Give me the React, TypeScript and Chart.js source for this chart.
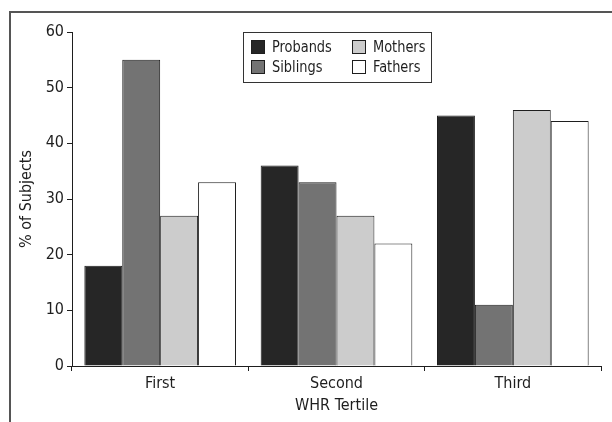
import React, { useEffect, useRef } from "react";
import { Chart, registerables } from "chart.js";

Chart.register(...registerables);

const categories = ["First", "Second", "Third"];
const seriesNames = ["Probands", "Siblings", "Mothers", "Fathers"];
const probands = [18, 36, 45];
const siblings = [55, 33, 11];
const mothers = [27, 27, 46];
const fathers = [33, 22, 44];
const seriesColors = ["#262626", "#737373", "#cccccc", "#ffffff"];
const yTicks = [0, 10, 20, 30, 40, 50, 60];

const FONT = "'Liberation Sans Narrow', 'DejaVu Sans Condensed', 'Arial Narrow', sans-serif";
const INK = "#1e1e1e";

const framePlugin = {
  id: "frame",
  beforeDraw(chart: any) {
    const ctx = chart.ctx;
    ctx.save();
    ctx.strokeStyle = "#555";
    ctx.lineWidth = 2;
    ctx.beginPath();
    ctx.moveTo(10, chart.height);
    ctx.lineTo(10, 12);
    ctx.lineTo(chart.width, 12);
    ctx.stroke();
    ctx.restore();
  },
};

const legendPlugin = {
  id: "boxLegend",
  afterDraw(chart: any) {
    const ctx = chart.ctx;
    ctx.save();
    ctx.strokeStyle = "#333";
    ctx.lineWidth = 1;
    ctx.strokeRect(243.5, 32.5, 188, 50);
    const cols = [251, 352];
    const rows = [40, 60];
    chart.data.datasets.forEach((ds: any, i: number) => {
      const c = Math.floor(i / 2);
      const r = i % 2;
      const x = cols[c];
      const y = rows[r];
      ctx.fillStyle = ds.backgroundColor;
      ctx.fillRect(x, y, 14, 14);
      ctx.strokeStyle = INK;
      ctx.strokeRect(x + 0.5, y + 0.5, 13, 13);
      ctx.save();
      ctx.fillStyle = INK;
      ctx.font = `16px ${FONT}`;
      ctx.textBaseline = "middle";
      ctx.textAlign = "left";
      ctx.translate(x + 21, y + 7.5);
      ctx.scale(0.9, 1);
      ctx.fillText(ds.label, 0, 0);
      ctx.restore();
    });
    ctx.restore();
  },
};

export default function App() {
  const ref = useRef<HTMLCanvasElement>(null);
  useEffect(() => {
    document.body.style.margin = "0";
    const values = [probands, siblings, mothers, fathers];
    const chart = new Chart(ref.current!, {
      type: "bar",
      data: {
        labels: categories,
        datasets: seriesNames.map((name, i) => ({
          label: name,
          data: values[i],
          backgroundColor: seriesColors[i],
          borderColor: INK,
          borderWidth: 1,
          categoryPercentage: 0.86,
          barPercentage: 1,
        })),
      },
      options: {
        animation: false,
        responsive: false,
        layout: { padding: { top: 32, left: 0, right: 11, bottom: 0 } },
        plugins: { legend: { display: false }, tooltip: { enabled: false } },
        scales: {
          x: {
            afterFit: (s: any) => {
              s.height = 56;
            },
            grid: {
              display: true,
              drawOnChartArea: false,
              drawTicks: true,
              tickLength: 5,
              color: INK,
              offset: true,
            },
            border: { display: true, color: INK, width: 1 },
            ticks: { color: INK, font: { family: FONT, size: 16 }, padding: 3 },
            title: {
              display: true,
              text: "WHR Tertile",
              color: INK,
              font: { family: FONT, size: 16 },
              padding: { top: 0, bottom: 7 },
            },
          },
          y: {
            min: 0,
            max: 60,
            afterFit: (s: any) => {
              s.width = 72;
            },
            afterBuildTicks: (s: any) => {
              s.ticks = yTicks.map((v) => ({ value: v }));
            },
            grid: {
              display: true,
              drawOnChartArea: false,
              drawTicks: true,
              tickLength: 5,
              color: INK,
            },
            border: { display: true, color: INK, width: 1 },
            ticks: { color: INK, font: { family: FONT, size: 16 }, padding: 3 },
            title: {
              display: true,
              text: "% of Subjects",
              color: INK,
              font: { family: FONT, size: 16 },
              padding: { top: 17, bottom: 0 },
            },
          },
        },
      },
      plugins: [framePlugin, legendPlugin],
    });
    return () => chart.destroy();
  }, []);
  return <canvas ref={ref} width={612} height={422} style={{ display: "block" }} />;
}
